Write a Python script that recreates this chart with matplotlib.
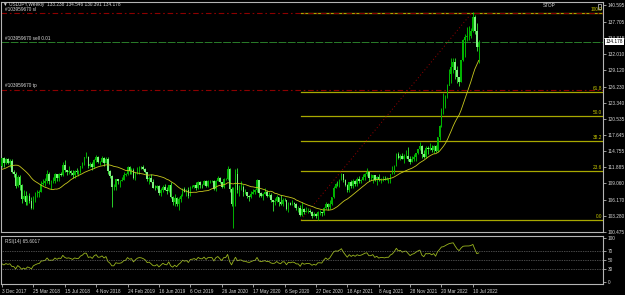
import numpy as np
import pandas as pd
import matplotlib
matplotlib.use("Agg")
import matplotlib.pyplot as plt
from matplotlib.patches import Rectangle

plt.rcParams['font.family'] = ['Liberation Sans', 'DejaVu Sans']

# closes before the first visible bar, only used to seed the SMA / RSI
warmup_close = [112.5, 111.1, 110.7, 110.7, 109.2, 109.2, 109.4, 110.2, 107.8, 110.8, 112.0,
                112.5, 112.6, 111.8, 113.5, 113.7, 114.1, 113.5, 112.1, 111.5, 112.2]

# USDJPY weekly, 3 Dec 2017 .. 31 Jul 2022 (one row per month)
close = [
    113.5, 112.6, 113.3, 112.7,
    # 2018
    113.0, 111.0, 110.8, 108.6,
    110.2, 108.8, 106.3, 106.9,
    105.7, 106.8, 106.0, 104.7, 106.3,
    106.9, 107.4, 107.6, 109.0,
    109.1, 109.4, 110.8, 109.4,
    109.5, 109.5, 110.7, 110.0, 110.7,
    110.5, 112.4, 111.4, 111.0,
    111.2, 110.9, 110.5, 111.2, 111.0,
    111.0, 112.1, 112.6, 113.7,
    113.7, 112.2, 112.5, 111.9,
    113.2, 113.8, 112.8, 112.9, 113.5,
    112.7, 113.4, 111.2, 110.3,
    # 2019
    108.5, 108.5, 109.8, 109.5,
    109.5, 109.7, 110.5, 110.7,
    111.9, 111.2, 111.5, 110.0, 110.9,
    111.7, 112.0, 111.9, 111.6,
    111.1, 109.9, 110.1, 109.3, 108.3,
    108.2, 108.6, 107.3, 107.9,
    108.5, 107.9, 107.7, 108.7,
    106.6, 105.7, 106.4, 105.4, 106.3,
    106.9, 108.1, 107.6, 107.9,
    106.9, 108.3, 108.4, 108.7,
    108.2, 109.3, 108.8, 108.7, 109.5,
    108.6, 109.4, 109.4, 109.4,
    # 2020
    108.1, 109.5, 110.1, 109.3, 108.4,
    109.8, 109.8, 111.6, 108.0,
    105.4, 108.0, 110.8, 107.9,
    108.5, 108.5, 107.5, 107.5,
    106.9, 106.6, 107.1, 107.6, 107.8,
    109.6, 107.4, 106.9, 107.2,
    107.5, 106.9, 107.0, 106.1, 105.8,
    105.9, 106.6, 105.8, 105.4,
    106.2, 106.1, 104.6, 105.6,
    105.3, 105.6, 105.4, 104.7, 104.7,
    103.4, 104.6, 103.9, 104.1,
    104.2, 104.0, 103.3, 103.6,
    # 2021
    103.2, 103.9, 103.9, 103.8, 104.7,
    105.4, 104.9, 105.4, 106.6,
    108.3, 109.0, 108.9, 109.6,
    110.7, 109.7, 108.8, 107.9, 109.3,
    108.6, 109.4, 108.9, 109.8,
    109.5, 109.7, 110.2, 110.8,
    111.0, 110.1, 110.1, 110.6, 109.7,
    110.2, 109.6, 109.8, 109.8,
    109.7, 109.9, 109.9, 110.7,
    111.1, 112.2, 114.2, 113.5, 113.9,
    113.4, 113.9, 114.0, 113.4,
    112.8, 113.4, 113.7, 114.4, 115.1,
    # 2022
    115.6, 114.2, 113.7, 115.3,
    115.2, 115.4, 115.0, 115.6,
    114.8, 117.3, 119.2, 122.1,
    122.5, 124.3, 126.4, 128.5, 129.7,
    130.6, 129.2, 127.9, 127.1,
    130.9, 134.4, 135.0, 135.2,
    135.2, 136.1, 138.6, 136.1, 133.24,
    134.178,
]

high = [
    113.6, 113.7, 113.6, 113.6,
    113.3, 113.4, 111.5, 111.0,
    110.5, 110.5, 108.9, 107.9,
    107.7, 107.0, 107.3, 106.6, 106.9,
    107.5, 107.8, 107.9, 109.5,
    109.9, 110.0, 111.4, 111.1,
    109.7, 110.2, 110.9, 110.8, 110.9,
    111.1, 112.8, 113.2, 111.5,
    112.2, 111.5, 111.4, 111.5, 111.8,
    111.5, 112.2, 112.9, 113.8,
    114.6, 113.9, 112.9, 112.9,
    113.4, 114.1, 114.0, 113.0, 114.0,
    113.8, 113.7, 113.7, 111.4,
    110.5, 109.0, 109.9, 109.9,
    109.7, 110.2, 111.1, 110.9,
    112.1, 112.1, 111.8, 111.7, 111.0,
    111.9, 112.1, 112.2, 112.4,
    111.7, 111.1, 110.3, 110.7, 109.9,
    108.7, 108.8, 108.8, 108.2,
    108.7, 108.9, 108.4, 108.8,
    109.3, 106.9, 107.1, 106.7, 106.7,
    107.2, 108.3, 108.5, 108.0,
    108.5, 108.6, 108.8, 108.8,
    109.3, 109.5, 109.5, 109.0, 109.7,
    109.7, 109.7, 109.7, 109.7,
    109.6, 109.6, 110.3, 110.2, 109.3,
    110.0, 110.1, 112.2, 111.7,
    108.5, 108.5, 111.6, 111.7,
    108.7, 109.4, 108.7, 108.0,
    107.5, 107.0, 107.7, 108.1, 108.1,
    109.8, 109.6, 107.6, 107.4,
    108.2, 107.8, 107.5, 107.3, 106.1,
    106.5, 107.0, 106.7, 107.0,
    106.5, 106.5, 106.1, 105.8,
    105.8, 106.1, 105.8, 105.6, 105.1,
    105.3, 105.7, 104.7, 104.8,
    104.7, 104.5, 104.2, 103.9,
    103.8, 104.1, 104.4, 104.0, 104.9,
    105.8, 105.6, 106.2, 106.7,
    108.6, 109.2, 109.4, 109.9,
    110.9, 110.5, 109.8, 108.9, 109.3,
    109.7, 109.8, 109.6, 110.2,
    110.3, 109.8, 110.8, 110.9,
    111.7, 111.1, 110.7, 110.6, 110.6,
    110.4, 110.8, 110.0, 110.3,
    110.4, 110.2, 110.0, 110.8,
    112.1, 112.3, 114.5, 114.7, 114.3,
    114.4, 114.2, 114.9, 115.5,
    113.9, 113.9, 114.3, 114.5, 115.2,
    116.4, 115.9, 115.0, 115.6,
    115.6, 116.3, 115.8, 115.8,
    115.8, 117.3, 119.4, 122.4,
    125.1, 124.7, 126.7, 129.4, 131.3,
    131.3, 131.3, 129.8, 128.0,
    130.9, 134.6, 135.6, 136.7,
    137.0, 136.6, 139.4, 138.9, 137.5,
    134.546,
]

low = [
    112.0, 112.0, 112.5, 112.5,
    112.0, 110.9, 110.2, 108.3,
    108.4, 107.9, 105.6, 106.1,
    105.2, 105.3, 105.6, 104.6, 104.6,
    105.7, 106.6, 106.6, 107.5,
    108.7, 108.6, 109.2, 108.9,
    108.1, 109.1, 109.2, 109.4, 109.4,
    110.3, 110.4, 111.0, 110.6,
    110.7, 110.5, 110.1, 110.1, 110.7,
    110.4, 110.9, 111.7, 112.4,
    113.6, 111.8, 111.9, 111.4,
    111.8, 112.9, 112.6, 112.3, 112.9,
    112.2, 112.6, 110.8, 110.0,
    104.9, 107.8, 107.9, 109.0,
    108.5, 109.4, 109.7, 110.3,
    110.6, 110.8, 110.8, 109.8, 109.7,
    110.8, 110.8, 111.6, 111.4,
    110.9, 109.5, 109.0, 109.3, 108.3,
    107.8, 108.0, 107.0, 106.8,
    107.6, 107.8, 107.2, 107.5,
    106.5, 105.3, 105.1, 105.1, 104.4,
    105.8, 106.8, 107.5, 106.9,
    106.5, 106.8, 108.2, 108.2,
    107.9, 108.1, 108.2, 108.2, 108.7,
    108.4, 108.4, 109.2, 109.3,
    107.9, 107.7, 109.4, 109.2, 108.3,
    108.3, 109.6, 109.7, 107.5,
    105.0, 101.2, 105.1, 107.3,
    106.9, 107.9, 106.9, 107.2,
    106.4, 106.0, 106.5, 107.1, 107.1,
    107.6, 106.6, 106.7, 106.1,
    107.2, 106.6, 106.6, 105.7, 104.2,
    105.3, 105.7, 105.1, 105.2,
    105.1, 105.9, 104.3, 104.0,
    105.2, 105.3, 104.9, 104.3, 104.0,
    103.2, 103.2, 103.7, 103.9,
    103.8, 103.8, 102.9, 103.2,
    102.9, 102.6, 103.5, 103.3, 103.5,
    104.6, 104.4, 104.6, 105.2,
    106.4, 108.3, 108.6, 108.4,
    109.6, 109.3, 108.6, 107.5, 107.5,
    108.3, 108.3, 108.6, 108.6,
    109.2, 109.2, 109.6, 109.7,
    110.4, 109.5, 109.7, 109.1, 109.4,
    108.7, 109.4, 109.1, 109.5,
    109.6, 109.6, 109.1, 109.1,
    110.7, 110.8, 112.1, 113.4, 113.2,
    113.3, 112.7, 113.6, 113.1,
    112.5, 112.9, 113.1, 113.1, 114.3,
    115.0, 113.5, 113.5, 113.5,
    114.2, 114.9, 114.6, 114.4,
    114.6, 114.7, 116.8, 119.0,
    121.3, 122.4, 124.2, 126.5, 126.9,
    128.6, 127.5, 126.9, 126.4,
    127.0, 130.7, 131.5, 134.3,
    134.5, 134.8, 135.9, 135.6, 132.5,
    130.391,
]

date_labels = ["3 Dec 2017", "25 Mar 2018", "15 Jul 2018", "4 Nov 2018", "24 Feb 2019",
               "16 Jun 2019", "6 Oct 2019", "26 Jan 2020", "17 May 2020", "6 Sep 2020",
               "27 Dec 2020", "18 Apr 2021", "8 Aug 2021", "28 Nov 2021", "20 Mar 2022",
               "10 Jul 2022"]
price_ticks = [140.595, 137.705, 134.815, 132.010, 129.120, 126.230, 123.340, 120.535,
               117.645, 114.755, 111.885, 109.060, 106.170, 103.280, 100.475]
rsi_ticks = [100, 70, 50, 30, 0]

fib_levels = [0.0, 23.6, 38.2, 50.0, 61.8, 100.0]
fib_low, fib_high = 102.6, 139.3
fib_start, fib_end = 152.5, 239.5

order_sl, order_entry, order_tp = 139.25, 134.05, 125.7

# ---- derived series ----
close = np.array(close)
high = np.array(high)
low = np.array(low)
opens = np.array([warmup_close[-1]] + list(close[:-1]))
all_close = pd.Series(list(warmup_close) + list(close))
n = len(close)
sma = all_close.rolling(20).mean().values[-n:]
delta = all_close.diff()
gain = delta.clip(lower=0).ewm(alpha=1 / 14, adjust=False).mean()
loss = (-delta.clip(upper=0)).ewm(alpha=1 / 14, adjust=False).mean()
rsi = (100 - 100 / (1 + gain / loss)).values[-n:]

FS = 3.4
TXT = '#d8d8d8'
GRID = '#b4b4b4'

fig = plt.figure(figsize=(6.25, 2.95), dpi=100, facecolor='black')
ax = fig.add_axes([1 / 625, 1 - 232 / 295, 602 / 625, 230.5 / 295], facecolor='black')
rx = fig.add_axes([1 / 625, 1 - 284 / 295, 602 / 625, 48.5 / 295], facecolor='black')

x = np.arange(n)
up = close >= opens
ax.vlines(x, low, high, colors=np.where(up, '#00d000', '#30f030'), lw=0.6, zorder=3)
ax.bar(x, np.maximum(opens, close) - np.minimum(opens, close), bottom=np.minimum(opens, close),
       width=0.8, color=np.where(up, '#00b400', '#80f080'), linewidth=0, zorder=4)
ax.plot(x, sma, color='#c8c81e', lw=0.6, zorder=5)

# fibonacci
for lv in fib_levels:
    p = fib_low + (fib_high - fib_low) * lv / 100
    ax.plot([fib_start, 400], [p, p], color='#a8a800', lw=0.9, zorder=2)
    ax.text(0.998, p + 0.15, f"{lv:.1f}", transform=ax.get_yaxis_transform(), ha='right',
            va='bottom', color='#c8c800', fontsize=FS, zorder=6)
ax.plot([fib_start, fib_end], [fib_low, fib_high], color='#980000', lw=0.7, ls=(0, (1, 2.5)), zorder=2)

# order lines
ax.axhline(order_sl, color='#8c0000', lw=0.8, ls=(0, (5, 2.5, 1.5, 2.5)), zorder=2)
ax.axhline(order_tp, color='#8c0000', lw=0.8, ls=(0, (5, 2.5, 1.5, 2.5)), zorder=2)
ax.axhline(order_entry, color='#2a7d2a', lw=0.7, ls=(0, (8, 1.5)), zorder=2)
for p, name in [(order_sl, "#103959670 sl"), (order_entry, "#103959670 sell 0.01"), (order_tp, "#103959670 tp")]:
    ax.text(0.007, p + 0.2, name, transform=ax.get_yaxis_transform(), ha='left', va='bottom',
            color=TXT, fontsize=FS)

ax.text(0.004, 0.999, "\u25bc USDJPY,Weekly  133.238 134.546 130.391 134.178", transform=ax.transAxes,
        ha='left', va='top', color=TXT, fontsize=FS)
ax.text(0.90, 0.992, "STOP", transform=ax.transAxes, ha='left', va='top', color=TXT, fontsize=FS)
ax.add_patch(Rectangle((0.992, 0.968), 0.004, 0.022, transform=ax.transAxes, fill=False,
                       edgecolor=TXT, lw=0.5))

ax.set_xlim(-0.5, -0.5 + 602 / 1.962)
ax.set_ylim(100.44, 141.3)
ax.yaxis.tick_right()
ax.set_yticks(price_ticks)
ax.set_yticklabels([f"{t:.3f}" for t in price_ticks])
ax.set_xticks([])
ax.tick_params(axis='y', length=2, pad=1.5, labelsize=FS, colors=TXT, width=0.5)
for s in ax.spines.values():
    s.set_color(GRID)
    s.set_linewidth(0.8)

# current price tag (covers the 134.815 label, as in the terminal)
ax.text(1.004, close[-1], f"{close[-1]:.3f}", transform=ax.get_yaxis_transform(), ha='left',
        va='center', color='black', fontsize=FS, zorder=10,
        bbox=dict(boxstyle='square,pad=0.15', facecolor='white', edgecolor='none'), clip_on=False)

# RSI panel
rx.plot(x, rsi, color='#9ab51e', lw=0.6)
for lv in [70, 50, 30]:
    rx.axhline(lv, color='#909090', lw=0.5, ls=(0, (1, 1.5)))
rx.text(0.006, 0.93, "RSI(14) 65.6017", transform=rx.transAxes, ha='left', va='top',
        color=TXT, fontsize=FS)
rx.set_xlim(ax.get_xlim())
rx.set_ylim(-5.2, 105)
rx.yaxis.tick_right()
rx.set_yticks(rsi_ticks)
rx.set_yticklabels([str(t) for t in rsi_ticks])
rx.set_xticks(range(0, 16 * len(date_labels), 16))
rx.set_xticklabels(date_labels)
for lbl in rx.get_xticklabels():
    lbl.set_ha('left')
rx.tick_params(length=2, pad=1.5, labelsize=FS, colors=TXT, width=0.5)
for s in rx.spines.values():
    s.set_color(GRID)
    s.set_linewidth(0.8)

fig.savefig("out.png", dpi=100, facecolor='black')
